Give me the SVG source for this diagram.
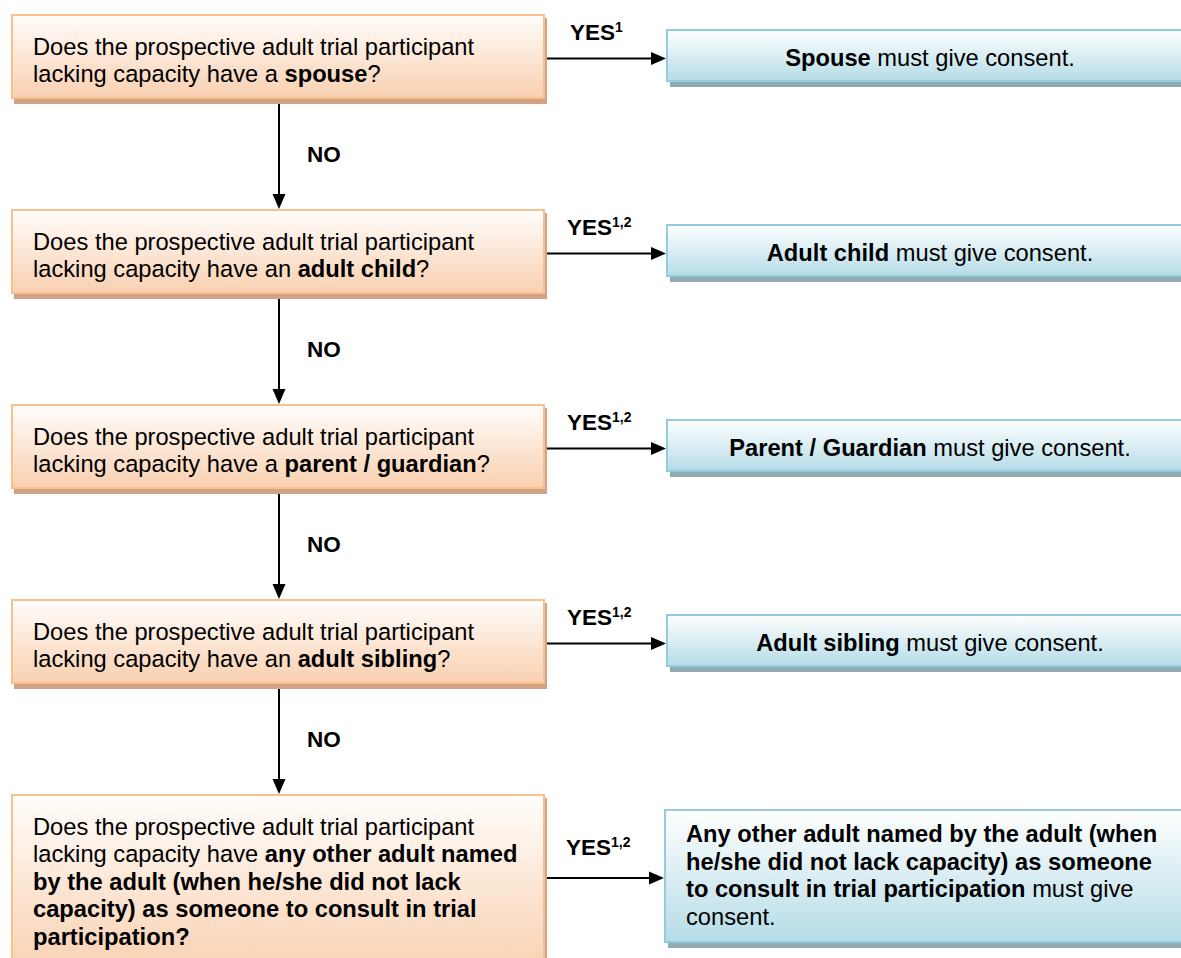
<svg xmlns="http://www.w3.org/2000/svg" width="1181" height="958" viewBox="0 0 1181 958">
  <defs>
    <linearGradient id="peach" x1="0" y1="0" x2="0" y2="1">
      <stop offset="0" stop-color="#fffdfb"/>
      <stop offset="1" stop-color="#f9d0b0"/>
    </linearGradient>
    <linearGradient id="sky" x1="0" y1="0" x2="0" y2="1">
      <stop offset="0" stop-color="#ffffff"/>
      <stop offset="1" stop-color="#b5dce7"/>
    </linearGradient>
    <marker id="head" markerUnits="userSpaceOnUse" markerWidth="16" markerHeight="14" refX="1" refY="6.5" orient="auto" overflow="visible">
      <path d="M0,0 L15,6.5 L0,13 z" fill="#000"/>
    </marker>
  </defs>
  <style>
    text { font-family: "Liberation Sans", Arial, sans-serif; fill: #000; }
    .body { font-size: 23.7px; }
    .lbl { font-size: 22.5px; font-weight: bold; }
    .sup { font-size: 14px; }
    .b { font-weight: bold; }
    .q { fill: url(#peach); stroke: #f9c08f; stroke-width: 2; }
    .qs { fill: #d1a283; }
    .a { fill: url(#sky); stroke: #93cddd; stroke-width: 2; }
    .as { fill: #93aab3; }
    .ctr { text-anchor: middle; }
    .link { fill: none; stroke: #000; stroke-width: 2; marker-end: url(#head); }
  </style>

  <rect width="1181" height="958" fill="#ffffff"/>

  <!-- question boxes -->
  <g id="q-spouse">
    <rect class="qs" x="14" y="18" width="533" height="86"/>
    <rect class="q" x="12" y="15" width="532" height="83"/>
    <text class="body" x="33" y="54.5">Does the prospective adult trial participant</text>
    <text class="body" x="33" y="82">lacking capacity have a <tspan class="b">spouse</tspan>?</text>
  </g>
  <g id="q-adult-child">
    <rect class="qs" x="14" y="213" width="533" height="86"/>
    <rect class="q" x="12" y="210" width="532" height="83"/>
    <text class="body" x="33" y="249.5">Does the prospective adult trial participant</text>
    <text class="body" x="33" y="277">lacking capacity have an <tspan class="b">adult child</tspan>?</text>
  </g>
  <g id="q-parent">
    <rect class="qs" x="14" y="408" width="533" height="86"/>
    <rect class="q" x="12" y="405" width="532" height="83"/>
    <text class="body" x="33" y="444.5">Does the prospective adult trial participant</text>
    <text class="body" x="33" y="472">lacking capacity have a <tspan class="b">parent / guardian</tspan>?</text>
  </g>
  <g id="q-sibling">
    <rect class="qs" x="14" y="603" width="533" height="86"/>
    <rect class="q" x="12" y="600" width="532" height="83"/>
    <text class="body" x="33" y="639.5">Does the prospective adult trial participant</text>
    <text class="body" x="33" y="667">lacking capacity have an <tspan class="b">adult sibling</tspan>?</text>
  </g>
  <g id="q-named-adult">
    <rect class="qs" x="14" y="798" width="533" height="180"/>
    <rect class="q" x="12" y="795" width="532" height="180"/>
    <text class="body" x="33" y="834.5">Does the prospective adult trial participant</text>
    <text class="body" x="33" y="862">lacking capacity have <tspan class="b">any other adult named</tspan></text>
    <text class="body b" x="33" y="889.5">by the adult (when he/she did not lack</text>
    <text class="body b" x="33" y="917">capacity) as someone to consult in trial</text>
    <text class="body b" x="33" y="944.5">participation?</text>
  </g>

  <!-- consent boxes -->
  <g id="a-spouse">
    <rect class="as" x="670" y="34" width="540" height="53"/>
    <rect class="a" x="667" y="30" width="540" height="51"/>
    <text class="body ctr" x="930" y="65.5"><tspan class="b">Spouse</tspan> must give consent.</text>
  </g>
  <g id="a-adult-child">
    <rect class="as" x="670" y="229" width="540" height="53"/>
    <rect class="a" x="667" y="225" width="540" height="51"/>
    <text class="body ctr" x="930" y="260.5"><tspan class="b">Adult child</tspan> must give consent.</text>
  </g>
  <g id="a-parent">
    <rect class="as" x="670" y="424" width="540" height="53"/>
    <rect class="a" x="667" y="420" width="540" height="51"/>
    <text class="body ctr" x="930" y="455.5"><tspan class="b">Parent / Guardian</tspan> must give consent.</text>
  </g>
  <g id="a-sibling">
    <rect class="as" x="670" y="619" width="540" height="53"/>
    <rect class="a" x="667" y="615" width="540" height="51"/>
    <text class="body ctr" x="930" y="650.5"><tspan class="b">Adult sibling</tspan> must give consent.</text>
  </g>
  <g id="a-named-adult">
    <rect class="as" x="668" y="814" width="540" height="134"/>
    <rect class="a" x="665" y="810" width="540" height="132"/>
    <text class="body b" x="686" y="842">Any other adult named by the adult (when</text>
    <text class="body b" x="686" y="869.7">he/she did not lack capacity) as someone</text>
    <text class="body" x="686" y="897.4"><tspan class="b">to consult in trial participation</tspan> must give</text>
    <text class="body" x="686" y="925">consent.</text>
  </g>

  <!-- connectors -->
  <g id="connectors">
    <path class="link" d="M547 58.5 H652"/>
    <path class="link" d="M547 253.5 H652"/>
    <path class="link" d="M547 448.5 H652"/>
    <path class="link" d="M547 643.5 H652"/>
    <path class="link" d="M547 878 H650"/>

    <path class="link" d="M279 104 V195"/>
    <path class="link" d="M279 299 V390"/>
    <path class="link" d="M279 494 V585"/>
    <path class="link" d="M279 689 V780"/>

    <text class="lbl" x="570" y="40">YES<tspan class="sup" dy="-8">1</tspan></text>
    <text class="lbl" x="567" y="234.5">YES<tspan class="sup" dy="-8">1,2</tspan></text>
    <text class="lbl" x="567" y="429.5">YES<tspan class="sup" dy="-8">1,2</tspan></text>
    <text class="lbl" x="567" y="624.5">YES<tspan class="sup" dy="-8">1,2</tspan></text>
    <text class="lbl" x="566" y="855">YES<tspan class="sup" dy="-8">1,2</tspan></text>

    <text class="lbl" x="307" y="162">NO</text>
    <text class="lbl" x="307" y="357">NO</text>
    <text class="lbl" x="307" y="552">NO</text>
    <text class="lbl" x="307" y="747">NO</text>
  </g>
</svg>
